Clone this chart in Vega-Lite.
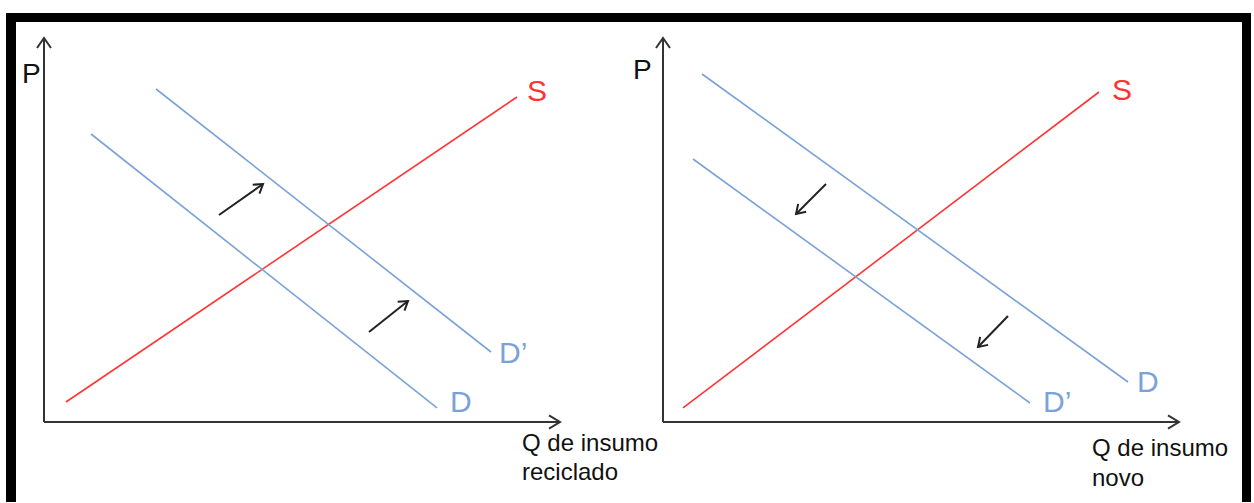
{
  "$schema": "https://vega.github.io/schema/vega-lite/v6.json",
  "background": "white",
  "padding": {"left": 6, "top": 13, "right": 3, "bottom": 1},
  "bounds": "flush",
  "spacing": 0,
  "config": {
    "view": {"stroke": null},
    "concat": {"spacing": 0},
    "text": {"font": "Liberation Sans", "align": "left", "baseline": "alphabetic"}
  },
  "vconcat": [
    {
      "width": 1245,
      "height": 9,
      "view": {"fill": "black", "stroke": null},
      "data": {"values": [{}]},
      "mark": {"type": "point", "opacity": 0}
    },
    {
      "bounds": "flush",
      "spacing": 0,
      "hconcat": [
        {
          "width": 10,
          "height": 480,
          "view": {"fill": "black", "stroke": null},
          "data": {"values": [{}]},
          "mark": {"type": "point", "opacity": 0}
        },
        {
          "width": 619,
          "height": 480,
          "layer": [
            {
              "data": {"values": [
                {"q1": 0, "p1": 0, "q2": 100, "p2": 0},
                {"q1": 0, "p1": 0, "q2": 0, "p2": 100}
              ]},
              "mark": {"type": "rule", "color": "#333333", "strokeWidth": 2},
              "encoding": {
                "x": {"field": "q1", "type": "quantitative", "scale": {"domain": [-5.426, 114.535], "nice": false, "zero": false}, "axis": null},
                "y": {"field": "p1", "type": "quantitative", "scale": {"domain": [-20.833, 104.167], "nice": false, "zero": false}, "axis": null},
                "x2": {"field": "q2"},
                "y2": {"field": "p2"}
              }
            },
            {
              "data": {"values": [{"q": 100, "p": 0}]},
              "mark": {"type": "point", "shape": "M-1,-0.6L0,0L-1,0.6", "filled": false, "stroke": "#333333", "strokeWidth": 2, "size": 484, "opacity": 1},
              "encoding": {
                "x": {"field": "q", "type": "quantitative", "scale": {"domain": [-5.426, 114.535], "nice": false, "zero": false}, "axis": null},
                "y": {"field": "p", "type": "quantitative", "scale": {"domain": [-20.833, 104.167], "nice": false, "zero": false}, "axis": null}
              }
            },
            {
              "data": {"values": [{"q": 0, "p": 100}]},
              "mark": {"type": "point", "shape": "M-1,-0.7L0,0L-1,0.7", "angle": 270, "filled": false, "stroke": "#333333", "strokeWidth": 2, "size": 400, "opacity": 1},
              "encoding": {
                "x": {"field": "q", "type": "quantitative", "scale": {"domain": [-5.426, 114.535], "nice": false, "zero": false}, "axis": null},
                "y": {"field": "p", "type": "quantitative", "scale": {"domain": [-20.833, 104.167], "nice": false, "zero": false}, "axis": null}
              }
            },
            {
              "data": {"values": [
                {"curve": "S", "q1": 4.26, "p1": 5.21, "q2": 91.67, "p2": 84.64},
                {"curve": "D", "q1": 9.11, "p1": 75.0, "q2": 76.16, "p2": 3.65},
                {"curve": "D’", "q1": 21.71, "p1": 86.72, "q2": 86.63, "p2": 18.23}
              ]},
              "mark": {"type": "rule", "strokeWidth": 1.6},
              "encoding": {
                "x": {"field": "q1", "type": "quantitative", "scale": {"domain": [-5.426, 114.535], "nice": false, "zero": false}, "axis": null},
                "y": {"field": "p1", "type": "quantitative", "scale": {"domain": [-20.833, 104.167], "nice": false, "zero": false}, "axis": null},
                "x2": {"field": "q2"},
                "y2": {"field": "p2"},
                "color": {"field": "curve", "type": "nominal", "scale": {"domain": ["S", "D", "D’"], "range": ["#ff3333", "#7aa2d8", "#7aa2d8"]}, "legend": null}
              }
            },
            {
              "data": {"values": [
                {"q1": 33.91, "p1": 53.91, "q2": 42.44, "p2": 61.98},
                {"q1": 62.98, "p1": 23.44, "q2": 70.54, "p2": 31.51}
              ]},
              "mark": {"type": "rule", "color": "#222222", "strokeWidth": 2},
              "encoding": {
                "x": {"field": "q1", "type": "quantitative", "scale": {"domain": [-5.426, 114.535], "nice": false, "zero": false}, "axis": null},
                "y": {"field": "p1", "type": "quantitative", "scale": {"domain": [-20.833, 104.167], "nice": false, "zero": false}, "axis": null},
                "x2": {"field": "q2"},
                "y2": {"field": "p2"}
              }
            },
            {
              "data": {"values": [
                {"q": 42.44, "p": 61.98},
                {"q": 70.54, "p": 31.51}
              ]},
              "mark": {"type": "point", "shape": "M-1,-0.65L0,0L-1,0.65", "angle": 323, "filled": false, "stroke": "#222222", "strokeWidth": 2, "size": 300, "opacity": 1},
              "encoding": {
                "x": {"field": "q", "type": "quantitative", "scale": {"domain": [-5.426, 114.535], "nice": false, "zero": false}, "axis": null},
                "y": {"field": "p", "type": "quantitative", "scale": {"domain": [-20.833, 104.167], "nice": false, "zero": false}, "axis": null}
              }
            },
            {
              "data": {"values": [
                {"label": "S", "q": 93.6, "p": 83.59},
                {"label": "D’", "q": 88.18, "p": 15.36},
                {"label": "D", "q": 78.68, "p": 2.6}
              ]},
              "mark": {"type": "text", "fontSize": 30},
              "encoding": {
                "x": {"field": "q", "type": "quantitative", "scale": {"domain": [-5.426, 114.535], "nice": false, "zero": false}, "axis": null},
                "y": {"field": "p", "type": "quantitative", "scale": {"domain": [-20.833, 104.167], "nice": false, "zero": false}, "axis": null},
                "text": {"field": "label"},
                "color": {"field": "label", "type": "nominal", "scale": {"domain": ["S", "D", "D’"], "range": ["#ff1a1a", "#5f93e0", "#5f93e0"]}, "legend": null}
              }
            },
            {
              "data": {"values": [{"label": "P", "q": -4.26, "p": 88.28}]},
              "mark": {"type": "text", "fontSize": 28, "color": "#111111"},
              "encoding": {
                "x": {"field": "q", "type": "quantitative", "scale": {"domain": [-5.426, 114.535], "nice": false, "zero": false}, "axis": null},
                "y": {"field": "p", "type": "quantitative", "scale": {"domain": [-20.833, 104.167], "nice": false, "zero": false}, "axis": null},
                "text": {"field": "label"}
              }
            },
            {
              "data": {"values": [
                {"label": "Q de insumo", "q": 92.64, "p": -7.55},
                {"label": "reciclado", "q": 92.64, "p": -15.1}
              ]},
              "mark": {"type": "text", "fontSize": 24, "color": "#111111"},
              "encoding": {
                "x": {"field": "q", "type": "quantitative", "scale": {"domain": [-5.426, 114.535], "nice": false, "zero": false}, "axis": null},
                "y": {"field": "p", "type": "quantitative", "scale": {"domain": [-20.833, 104.167], "nice": false, "zero": false}, "axis": null},
                "text": {"field": "label"}
              }
            }
          ]
        },
        {
          "width": 607,
          "height": 480,
          "layer": [
            {
              "data": {"values": [
                {"q1": 0, "p1": 0, "q2": 100, "p2": 0},
                {"q1": 0, "p1": 0, "q2": 0, "p2": 100}
              ]},
              "mark": {"type": "rule", "color": "#333333", "strokeWidth": 2},
              "encoding": {
                "x": {"field": "q1", "type": "quantitative", "scale": {"domain": [-5.426, 112.209], "nice": false, "zero": false}, "axis": null},
                "y": {"field": "p1", "type": "quantitative", "scale": {"domain": [-20.833, 104.167], "nice": false, "zero": false}, "axis": null},
                "x2": {"field": "q2"},
                "y2": {"field": "p2"}
              }
            },
            {
              "data": {"values": [{"q": 100, "p": 0}]},
              "mark": {"type": "point", "shape": "M-1,-0.6L0,0L-1,0.6", "filled": false, "stroke": "#333333", "strokeWidth": 2, "size": 484, "opacity": 1},
              "encoding": {
                "x": {"field": "q", "type": "quantitative", "scale": {"domain": [-5.426, 112.209], "nice": false, "zero": false}, "axis": null},
                "y": {"field": "p", "type": "quantitative", "scale": {"domain": [-20.833, 104.167], "nice": false, "zero": false}, "axis": null}
              }
            },
            {
              "data": {"values": [{"q": 0, "p": 100}]},
              "mark": {"type": "point", "shape": "M-1,-0.7L0,0L-1,0.7", "angle": 270, "filled": false, "stroke": "#333333", "strokeWidth": 2, "size": 400, "opacity": 1},
              "encoding": {
                "x": {"field": "q", "type": "quantitative", "scale": {"domain": [-5.426, 112.209], "nice": false, "zero": false}, "axis": null},
                "y": {"field": "p", "type": "quantitative", "scale": {"domain": [-20.833, 104.167], "nice": false, "zero": false}, "axis": null}
              }
            },
            {
              "data": {"values": [
                {"curve": "S", "q1": 3.88, "p1": 3.65, "q2": 84.5, "p2": 85.94},
                {"curve": "D", "q1": 7.56, "p1": 90.63, "q2": 90.12, "p2": 10.42},
                {"curve": "D’", "q1": 5.81, "p1": 68.49, "q2": 71.12, "p2": 4.95}
              ]},
              "mark": {"type": "rule", "strokeWidth": 1.6},
              "encoding": {
                "x": {"field": "q1", "type": "quantitative", "scale": {"domain": [-5.426, 112.209], "nice": false, "zero": false}, "axis": null},
                "y": {"field": "p1", "type": "quantitative", "scale": {"domain": [-20.833, 104.167], "nice": false, "zero": false}, "axis": null},
                "x2": {"field": "q2"},
                "y2": {"field": "p2"},
                "color": {"field": "curve", "type": "nominal", "scale": {"domain": ["S", "D", "D’"], "range": ["#ff3333", "#7aa2d8", "#7aa2d8"]}, "legend": null}
              }
            },
            {
              "data": {"values": [
                {"q1": 31.59, "p1": 61.98, "q2": 25.78, "p2": 54.17},
                {"q1": 66.86, "p1": 27.6, "q2": 61.05, "p2": 19.53}
              ]},
              "mark": {"type": "rule", "color": "#222222", "strokeWidth": 2},
              "encoding": {
                "x": {"field": "q1", "type": "quantitative", "scale": {"domain": [-5.426, 112.209], "nice": false, "zero": false}, "axis": null},
                "y": {"field": "p1", "type": "quantitative", "scale": {"domain": [-20.833, 104.167], "nice": false, "zero": false}, "axis": null},
                "x2": {"field": "q2"},
                "y2": {"field": "p2"}
              }
            },
            {
              "data": {"values": [
                {"q": 25.78, "p": 54.17},
                {"q": 61.05, "p": 19.53}
              ]},
              "mark": {"type": "point", "shape": "M-1,-0.65L0,0L-1,0.65", "angle": 135, "filled": false, "stroke": "#222222", "strokeWidth": 2, "size": 300, "opacity": 1},
              "encoding": {
                "x": {"field": "q", "type": "quantitative", "scale": {"domain": [-5.426, 112.209], "nice": false, "zero": false}, "axis": null},
                "y": {"field": "p", "type": "quantitative", "scale": {"domain": [-20.833, 104.167], "nice": false, "zero": false}, "axis": null}
              }
            },
            {
              "data": {"values": [
                {"label": "S", "q": 87.02, "p": 83.85},
                {"label": "D", "q": 91.86, "p": 7.81},
                {"label": "D’", "q": 73.64, "p": 2.6}
              ]},
              "mark": {"type": "text", "fontSize": 30},
              "encoding": {
                "x": {"field": "q", "type": "quantitative", "scale": {"domain": [-5.426, 112.209], "nice": false, "zero": false}, "axis": null},
                "y": {"field": "p", "type": "quantitative", "scale": {"domain": [-20.833, 104.167], "nice": false, "zero": false}, "axis": null},
                "text": {"field": "label"},
                "color": {"field": "label", "type": "nominal", "scale": {"domain": ["S", "D", "D’"], "range": ["#ff1a1a", "#5f93e0", "#5f93e0"]}, "legend": null}
              }
            },
            {
              "data": {"values": [{"label": "P", "q": -5.81, "p": 89.32}]},
              "mark": {"type": "text", "fontSize": 28, "color": "#111111"},
              "encoding": {
                "x": {"field": "q", "type": "quantitative", "scale": {"domain": [-5.426, 112.209], "nice": false, "zero": false}, "axis": null},
                "y": {"field": "p", "type": "quantitative", "scale": {"domain": [-20.833, 104.167], "nice": false, "zero": false}, "axis": null},
                "text": {"field": "label"}
              }
            },
            {
              "data": {"values": [
                {"label": "Q de insumo", "q": 83.14, "p": -8.85},
                {"label": "novo", "q": 83.14, "p": -16.67}
              ]},
              "mark": {"type": "text", "fontSize": 24, "color": "#111111"},
              "encoding": {
                "x": {"field": "q", "type": "quantitative", "scale": {"domain": [-5.426, 112.209], "nice": false, "zero": false}, "axis": null},
                "y": {"field": "p", "type": "quantitative", "scale": {"domain": [-20.833, 104.167], "nice": false, "zero": false}, "axis": null},
                "text": {"field": "label"}
              }
            }
          ]
        },
        {
          "width": 9,
          "height": 480,
          "view": {"fill": "black", "stroke": null},
          "data": {"values": [{}]},
          "mark": {"type": "point", "opacity": 0}
        }
      ]
    }
  ]
}
